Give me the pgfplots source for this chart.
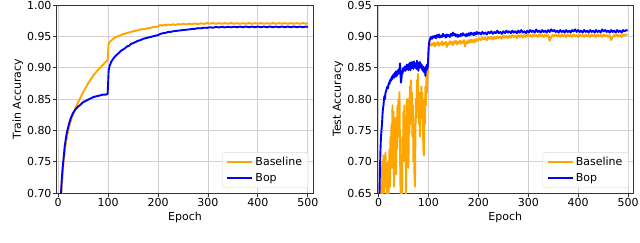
\documentclass[border=0pt]{standalone}
\usepackage{pgfplots}
\pgfplotsset{compat=1.18}
\usepackage{fontspec}
\setmainfont{DejaVu Sans}
\definecolor{mplorange}{HTML}{FFA500}
\definecolor{mplblue}{HTML}{0000FF}
\pgfplotsset{
  mystyle/.style={
    scale only axis, width=256.6pt, height=188pt,
    xmin=-3, xmax=511,
    xtick={0,100,...,500},
    /pgf/number format/assume math mode=true,
    yticklabel style={/pgf/number format/fixed,/pgf/number format/fixed zerofill,/pgf/number format/precision=2},
    tick label style={font=\fontsize{11}{13}\selectfont, inner sep=1.5pt},
    label style={font=\fontsize{11}{13}\selectfont},
    grid=major, grid style={black!18, line width=0.8pt},
    axis line style={black!80, line width=0.8pt},
    tick style={black!80, line width=0.8pt},
    tick align=outside, major tick length=3.5pt,
    xtick pos=bottom, ytick pos=left,
    xlabel=Epoch,
    xlabel style={at={(axis description cs:0.5,-0.128)}, anchor=center},
    legend cell align=left,
    legend style={at={(1,0)}, anchor=south east, xshift=-5pt, yshift=5pt,
      draw=black!15, rounded corners=2pt, fill=white, fill opacity=0.8, text opacity=1,
      font=\fontsize{11}{13}\selectfont, inner xsep=4pt, inner ysep=3pt, row sep=2pt},
    legend image code/.code={\draw[#1, line width=2pt] (0pt,0pt) -- (25pt,0pt);},
    every axis plot/.append style={line width=1.9pt, line join=round},
  }
}
\begin{document}
\begin{tikzpicture}[x=1pt,y=1pt]
\path[use as bounding box] (0,0) rectangle (640,242);
\begin{axis}[mystyle, at={(56.7pt,49pt)}, anchor=south west,
  ymin=0.70, ymax=1.00, ytick={0.70,0.75,...,1.00},
  ylabel=Train Accuracy,
  ylabel style={at={(axis description cs:-0.151,0.5)}, anchor=center}]
\addplot[mplorange] coordinates {
(1,0.45)(3,0.60)(5,0.67)(7,0.71)(9,0.733)(11,0.752)(13,0.767)(15,0.778)(17,0.788)(20,0.799)(23,0.809)(26,0.817)(30,0.826)(35,0.836)(40,0.845)(45,0.853)(50,0.861)(55,0.868)(60,0.875)(65,0.881)(70,0.887)(75,0.892)(80,0.897)(85,0.901)(90,0.905)(95,0.909)(99,0.912)(100,0.925)(101,0.938)(103,0.941)(106,0.943)(110,0.946)(114,0.948)(118,0.9495)(122,0.951)(126,0.952)(130,0.9535)(134,0.954)(138,0.9555)(142,0.956)(146,0.957)(150,0.958)(155,0.959)(160,0.9595)(165,0.961)(170,0.9615)(175,0.962)(180,0.963)(185,0.9635)(190,0.965)(195,0.9645)(200,0.966)(204,0.968)(208,0.967)(212,0.9685)(216,0.9675)(220,0.969)(225,0.968)(230,0.9692)(235,0.9683)(240,0.9695)(245,0.9688)(250,0.970)(256,0.969)(262,0.9702)(268,0.9692)(274,0.9705)(280,0.9695)(286,0.9708)(292,0.9698)(298,0.9712)(304,0.9702)(310,0.9712)(316,0.9700)(322,0.9711)(328,0.9701)(334,0.9710)(340,0.9700)(346,0.9712)(352,0.9702)(358,0.9710)(364,0.9700)(370,0.9711)(376,0.9701)(382,0.9712)(388,0.9700)(394,0.9710)(400,0.9702)(406,0.9712)(412,0.9700)(418,0.9710)(424,0.9701)(430,0.9712)(436,0.9700)(442,0.9710)(448,0.9702)(454,0.9711)(460,0.9700)(466,0.9712)(472,0.9701)(478,0.9710)(484,0.9700)(490,0.9712)(496,0.9702)(500,0.9708)
};
\addlegendentry{Baseline}
\addplot[mplblue] coordinates {
(1,0.45)(3,0.60)(5,0.69)(7,0.72)(9,0.741)(11,0.757)(13,0.774)(15,0.785)(17,0.795)(20,0.805)(23,0.814)(26,0.821)(30,0.828)(35,0.834)(40,0.838)(45,0.841)(50,0.845)(55,0.847)(60,0.849)(65,0.851)(70,0.853)(75,0.854)(80,0.855)(85,0.856)(90,0.857)(95,0.857)(99,0.858)(100,0.875)(101,0.895)(103,0.903)(106,0.909)(110,0.914)(114,0.918)(118,0.921)(122,0.924)(126,0.927)(130,0.929)(134,0.931)(138,0.934)(142,0.935)(146,0.938)(150,0.939)(155,0.941)(160,0.943)(165,0.944)(170,0.946)(175,0.947)(180,0.948)(185,0.949)(190,0.950)(195,0.951)(200,0.952)(205,0.954)(210,0.955)(215,0.9555)(220,0.957)(225,0.957)(230,0.958)(235,0.9585)(240,0.959)(245,0.9595)(250,0.960)(256,0.9605)(262,0.961)(268,0.9618)(274,0.962)(280,0.963)(286,0.9628)(292,0.9638)(298,0.9635)(304,0.9645)(310,0.9638)(316,0.9650)(322,0.9642)(328,0.9652)(334,0.9643)(340,0.9653)(346,0.9644)(352,0.9654)(358,0.9645)(364,0.9655)(370,0.9645)(376,0.9656)(382,0.9646)(388,0.9655)(394,0.9645)(400,0.9656)(406,0.9646)(412,0.9655)(418,0.9645)(424,0.9656)(430,0.9646)(436,0.9655)(442,0.9645)(448,0.9656)(454,0.9646)(460,0.9655)(466,0.9645)(472,0.9656)(478,0.9646)(484,0.9655)(490,0.9645)(496,0.9655)(500,0.9650)
};
\addlegendentry{Bop}
\end{axis}
\begin{axis}[mystyle, at={(377pt,49pt)}, anchor=south west,
  ymin=0.65, ymax=0.95, ytick={0.65,0.70,...,0.95},
  ylabel=Test Accuracy,
  ylabel style={at={(axis description cs:-0.152,0.5)}, anchor=center}]
\addplot[mplorange] coordinates {
(1,0.45)(2,0.55)(3,0.62)(4,0.66)(5,0.64)(6,0.69)(7,0.63)(8,0.70)(9,0.66)(10,0.71)(11,0.65)(12,0.70)(13,0.68)(14,0.715)(15,0.66)(16,0.69)(17,0.63)(18,0.67)(19,0.70)(20,0.64)(21,0.68)(22,0.72)(23,0.66)(24,0.74)(25,0.70)(26,0.76)(27,0.69)(28,0.79)(29,0.72)(30,0.78)(31,0.66)(32,0.74)(33,0.70)(34,0.77)(35,0.68)(36,0.75)(37,0.72)(38,0.79)(39,0.74)(40,0.80)(41,0.76)(42,0.811)(43,0.72)(44,0.66)(45,0.63)(46,0.71)(47,0.64)(48,0.74)(49,0.70)(50,0.78)(51,0.73)(52,0.79)(53,0.70)(54,0.76)(55,0.64)(56,0.74)(57,0.80)(58,0.72)(59,0.78)(60,0.69)(61,0.80)(62,0.745)(63,0.82)(64,0.76)(65,0.83)(66,0.77)(67,0.81)(68,0.74)(69,0.79)(70,0.70)(71,0.76)(72,0.68)(73,0.66)(74,0.75)(75,0.80)(76,0.77)(77,0.83)(78,0.79)(79,0.84)(80,0.80)(81,0.76)(82,0.81)(83,0.74)(84,0.80)(85,0.77)(86,0.82)(87,0.78)(88,0.81)(89,0.75)(90,0.72)(91,0.71)(92,0.80)(93,0.76)(94,0.82)(95,0.79)(96,0.84)(97,0.81)(98,0.83)(99,0.845)
(100,0.870)(101,0.884)(103,0.888)(105,0.885)(107,0.889)(109,0.886)(111,0.890)(113,0.884)(115,0.889)(117,0.887)(119,0.891)(121,0.885)(123,0.889)(125,0.887)(127,0.892)(129,0.886)(131,0.890)(133,0.888)(135,0.891)(137,0.883)(139,0.889)(141,0.887)(143,0.892)(145,0.888)(147,0.891)(149,0.886)(151,0.892)(153,0.889)(155,0.893)(157,0.887)(159,0.891)(161,0.889)(163,0.893)(165,0.888)(167,0.892)(169,0.890)(171,0.894)(173,0.884)(175,0.890)(177,0.892)(179,0.889)(181,0.894)(183,0.890)(185,0.895)(187,0.891)(189,0.894)(191,0.890)(193,0.895)(195,0.892)(197,0.896)(199,0.893)
(202,0.897)(205,0.894)(208,0.898)(211,0.895)(214,0.898)(217,0.894)(220,0.899)(223,0.896)(226,0.899)(229,0.895)(232,0.899)(235,0.896)(238,0.900)(241,0.897)(244,0.900)(247,0.896)(250,0.901)(253,0.898)(256,0.901)(259,0.897)(262,0.901)(265,0.898)(268,0.902)(271,0.899)(274,0.901)(277,0.897)(280,0.902)(283,0.899)(286,0.902)(289,0.898)(292,0.902)(295,0.899)(298,0.903)
(301,0.900)(304,0.902)(307,0.899)(310,0.903)(313,0.900)(316,0.902)(319,0.899)(322,0.903)(325,0.900)(328,0.902)(331,0.899)(334,0.903)(337,0.900)(340,0.902)(343,0.893)(346,0.899)(349,0.902)(352,0.900)(355,0.903)(358,0.900)(361,0.902)(364,0.899)(367,0.903)(370,0.900)(373,0.902)(376,0.899)(379,0.903)(382,0.900)(385,0.902)(388,0.899)(391,0.903)(394,0.900)(397,0.902)
(400,0.899)(403,0.903)(406,0.900)(409,0.902)(412,0.899)(415,0.903)(418,0.900)(421,0.902)(424,0.899)(427,0.903)(430,0.900)(433,0.902)(436,0.899)(439,0.903)(442,0.900)(445,0.902)(448,0.899)(451,0.903)(454,0.900)(457,0.902)(460,0.899)(463,0.902)(466,0.894)(469,0.899)(472,0.902)(475,0.900)(478,0.903)(481,0.900)(484,0.902)(487,0.899)(490,0.903)(493,0.901)(496,0.903)(499,0.903)
};
\addlegendentry{Baseline}
\addplot[mplblue] coordinates {
(1,0.60)(2,0.65)(3,0.69)(4,0.72)(5,0.74)(6,0.75)(7,0.76)(8,0.775)(9,0.785)(10,0.79)(11,0.80)(12,0.805)(13,0.80)(14,0.81)(15,0.812)(16,0.815)(17,0.818)(18,0.82)(19,0.817)(20,0.823)(21,0.826)(22,0.824)(23,0.83)(24,0.828)(25,0.833)(26,0.83)(27,0.836)(28,0.832)(29,0.838)(30,0.835)(31,0.84)(32,0.834)(33,0.842)(34,0.838)(35,0.844)(36,0.836)(37,0.843)(38,0.839)(39,0.846)(40,0.84)(41,0.848)(42,0.843)(43,0.857)(44,0.84)(45,0.826)(46,0.832)(47,0.845)(48,0.84)(49,0.849)(50,0.844)(51,0.85)(52,0.846)(53,0.852)(54,0.845)(55,0.85)(56,0.847)(57,0.855)(58,0.848)(59,0.853)(60,0.846)(61,0.856)(62,0.85)(63,0.858)(64,0.846)(65,0.854)(66,0.849)(67,0.859)(68,0.851)(69,0.856)(70,0.848)(71,0.86)(72,0.852)(73,0.857)(74,0.85)(75,0.855)(76,0.848)(77,0.861)(78,0.852)(79,0.858)(80,0.845)(81,0.856)(82,0.85)(83,0.859)(84,0.851)(85,0.856)(86,0.849)(87,0.854)(88,0.846)(89,0.852)(90,0.844)(91,0.85)(92,0.842)(93,0.848)(94,0.837)(95,0.852)(96,0.845)(97,0.855)(98,0.848)(99,0.853)
(100,0.875)(101,0.889)(103,0.895)(105,0.899)(107,0.896)(109,0.900)(111,0.898)(113,0.901)(115,0.897)(117,0.902)(119,0.899)(121,0.903)(123,0.898)(125,0.901)(127,0.899)(129,0.904)(131,0.900)(133,0.902)(135,0.898)(137,0.903)(139,0.900)(141,0.902)(143,0.899)(145,0.904)(147,0.901)(149,0.906)(151,0.902)(153,0.904)(155,0.900)(157,0.903)(159,0.899)(161,0.902)(163,0.900)(165,0.904)(167,0.901)(169,0.905)(171,0.902)(173,0.903)(175,0.900)(177,0.904)(179,0.901)(181,0.905)(183,0.902)(185,0.906)(187,0.903)(189,0.905)(191,0.902)(193,0.906)(195,0.903)(197,0.907)(199,0.904)
(202,0.906)(205,0.903)(208,0.907)(211,0.904)(214,0.906)(217,0.903)(220,0.907)(223,0.905)(226,0.908)(229,0.904)(232,0.907)(235,0.905)(238,0.909)(241,0.905)(244,0.907)(247,0.904)(250,0.908)(253,0.905)(256,0.909)(259,0.906)(262,0.908)(265,0.905)(268,0.909)(271,0.906)(274,0.908)(277,0.905)(280,0.909)(283,0.906)(286,0.910)(289,0.906)(292,0.908)(295,0.905)(298,0.909)
(301,0.906)(304,0.910)(307,0.907)(310,0.909)(313,0.906)(316,0.911)(319,0.907)(322,0.909)(325,0.906)(328,0.910)(331,0.907)(334,0.909)(337,0.906)(340,0.910)(343,0.907)(346,0.911)(349,0.908)(352,0.910)(355,0.907)(358,0.909)(361,0.906)(364,0.910)(367,0.907)(370,0.909)(373,0.906)(376,0.910)(379,0.907)(382,0.909)(385,0.906)(388,0.910)(391,0.908)(394,0.911)(397,0.907)
(400,0.910)(403,0.907)(406,0.909)(409,0.906)(412,0.910)(415,0.907)(418,0.909)(421,0.906)(424,0.910)(427,0.907)(430,0.909)(433,0.906)(436,0.910)(439,0.907)(442,0.909)(445,0.906)(448,0.911)(451,0.908)(454,0.910)(457,0.907)(460,0.909)(463,0.906)(466,0.910)(469,0.907)(472,0.909)(475,0.906)(478,0.910)(481,0.907)(484,0.909)(487,0.906)(490,0.910)(493,0.908)(496,0.910)(499,0.909)
};
\addlegendentry{Bop}
\end{axis}
\end{tikzpicture}
\end{document}
